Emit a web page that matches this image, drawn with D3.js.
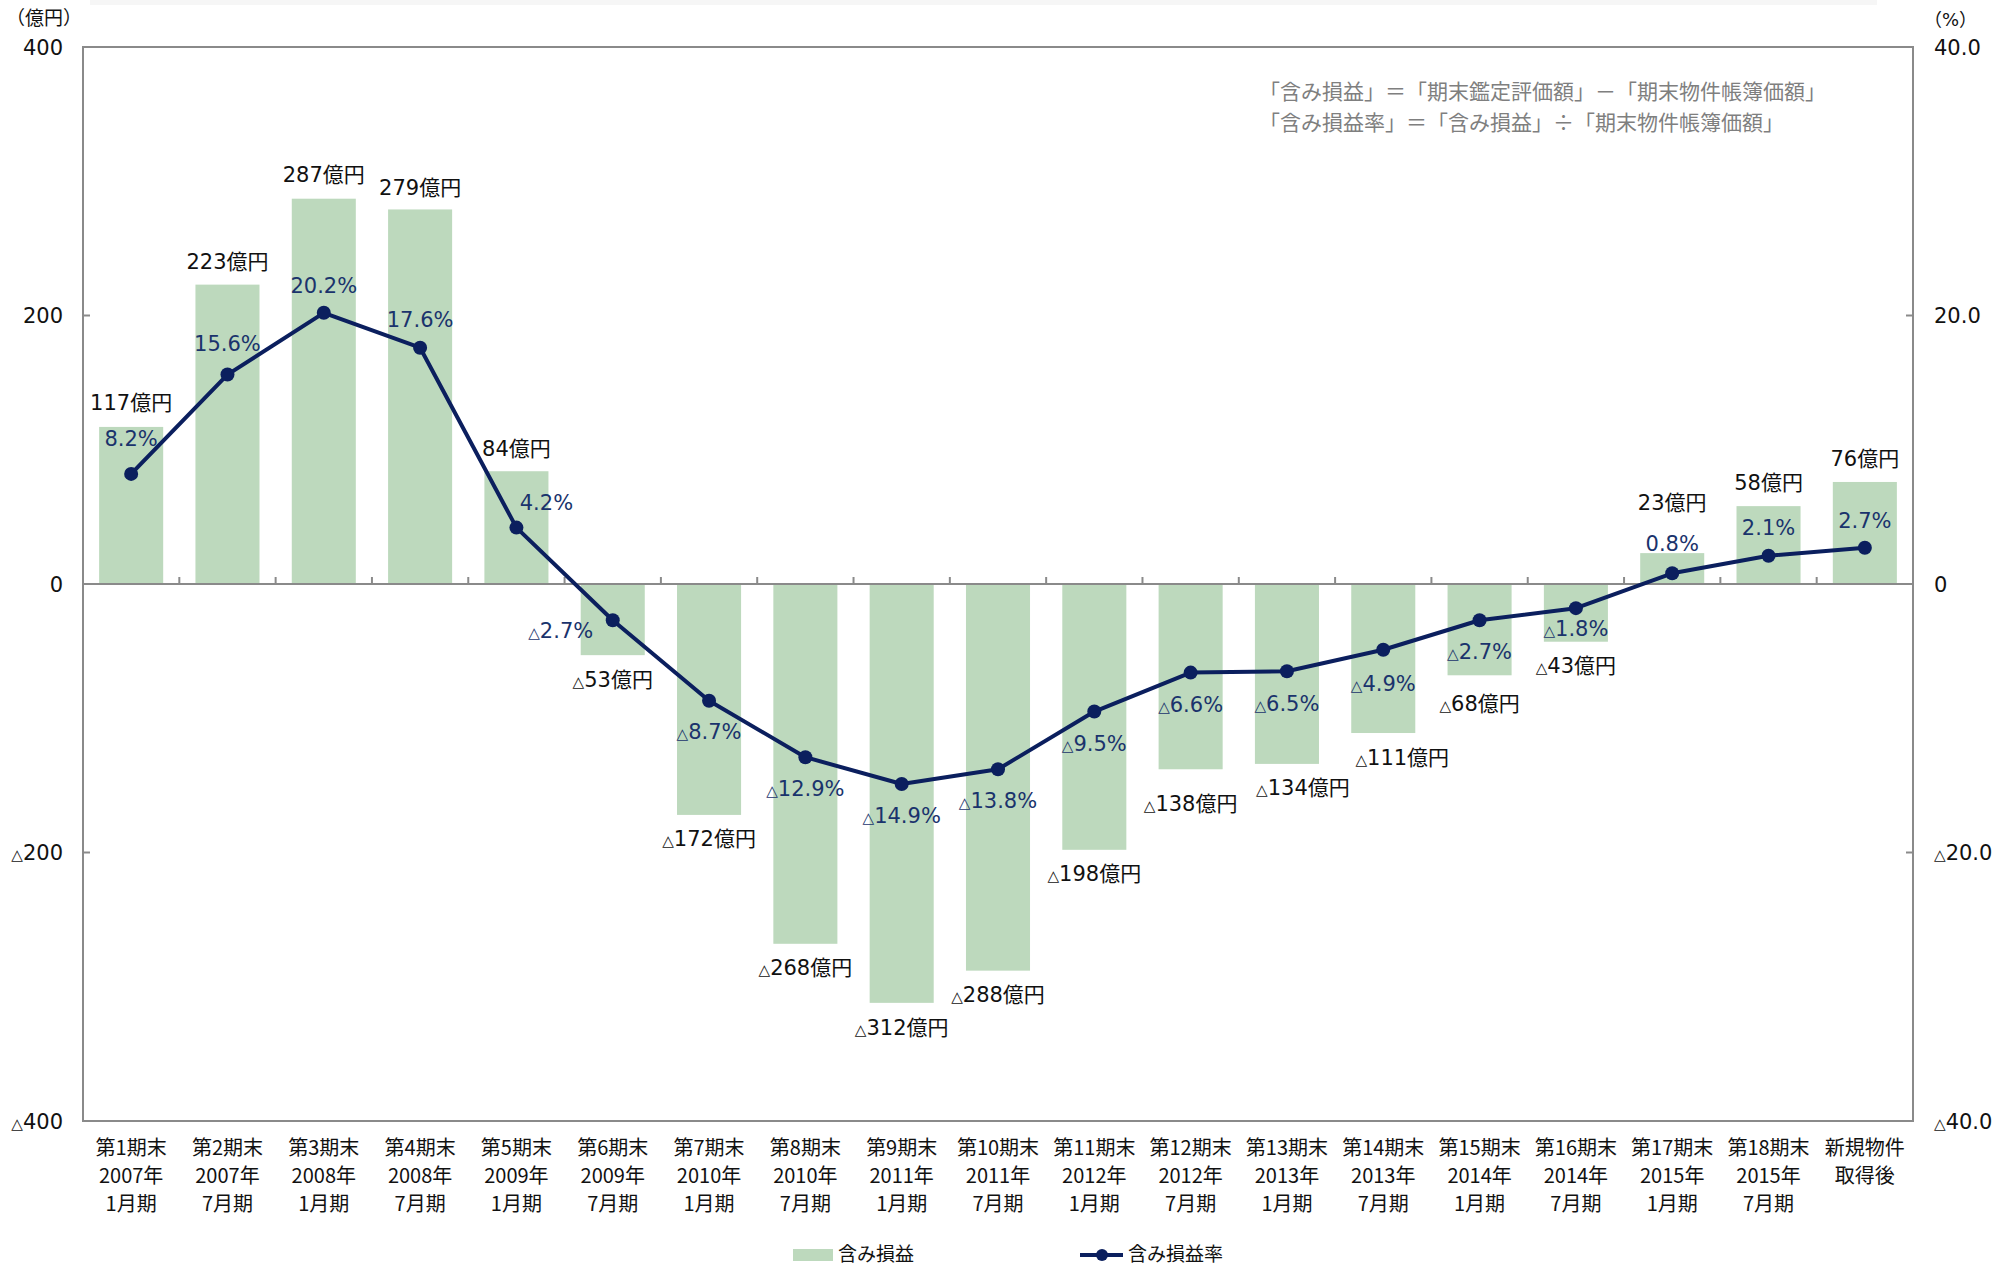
<!DOCTYPE html>
<html>
<head>
<meta charset="utf-8">
<script src="https://cdn.jsdelivr.net/npm/d3@7"></script>
<style>
  body { margin: 0; background: #fff; }
  svg { display: block; }
</style>
</head>
<body>
<div id="chart"></div>
<script>
// chart data
var periods = ['第1期末', '第2期末', '第3期末', '第4期末', '第5期末', '第6期末', '第7期末', '第8期末', '第9期末', '第10期末',
               '第11期末', '第12期末', '第13期末', '第14期末', '第15期末', '第16期末', '第17期末', '第18期末', '新規物件'];
var years = ['2007年', '2007年', '2008年', '2008年', '2009年', '2009年', '2010年', '2010年', '2011年', '2011年',
             '2012年', '2012年', '2013年', '2013年', '2014年', '2014年', '2015年', '2015年', '取得後'];
var months = ['1月期', '7月期', '1月期', '7月期', '1月期', '7月期', '1月期', '7月期', '1月期', '7月期',
              '1月期', '7月期', '1月期', '7月期', '1月期', '7月期', '1月期', '7月期', ''];
var gains = [117, 223, 287, 279, 84, -53, -172, -268, -312, -288, -198, -138, -134, -111, -68, -43, 23, 58, 76];
var rates = [8.2, 15.6, 20.2, 17.6, 4.2, -2.7, -8.7, -12.9, -14.9, -13.8, -9.5, -6.6, -6.5, -4.9, -2.7, -1.8, 0.8, 2.1, 2.7];
var leftTicks = [400, 200, 0, -200, -400];
var rightTicks = [40, 20, 0, -20, -40];
var notes = ['「含み損益」＝「期末鑑定評価額」－「期末物件帳簿価額」', '「含み損益率」＝「含み損益」÷「期末物件帳簿価額」'];

// label placement (pixels), tuned by eye
var gainLabelGap = [24, 23, 24, 22, 23, 24, 24, 24, 25, 24, 24, 34, 24, 24, 28, 24, 51, 24, 24];
var gainLabelDx = [0, 0, 0, 0, 0, 0, 0, 0, 0, 0, 0, 0, 16, 19, 0, 0, 0, 0, 0];
var rateLabelDy = [-35, -31, -27, -28, -25, 10, 31, 31, 31, 31, 32, 32, 32, 34, 31, 20, -30, -28, -27];
var rateLabelDx = [0, 0, 0, 0, 30, -52, 0, 0, 0, 0, 0, 0, 0, 0, 0, 0, 0, 0, 0];

var width = 2015;
var height = 1265;
var plotLeft = 83, plotRight = 1913, plotTop = 47, plotBottom = 1121;

var numFont = '"DejaVu Sans", "Noto Sans CJK JP", sans-serif';
var jpFont = '"Noto Sans CJK JP", sans-serif';
var axisColor = '#8a8a8a';
var barColor = '#bdd9bd';
var lineColor = '#0b1f5e';
var rateColor = '#1a336c';

var svg = d3.select('#chart')
  .append('svg')
    .attr('width', width)
    .attr('height', height);

var x = d3.scaleBand()
    .domain(d3.range(periods.length))
    .range([plotLeft, plotRight])
    .padding(0);
var yL = d3.scaleLinear().domain([-400, 400]).range([plotBottom, plotTop]);
var yR = d3.scaleLinear().domain([-40, 40]).range([plotBottom, plotTop]);
var barWidth = x.bandwidth() * 0.665;

// faint strip along the top edge
svg.append('rect')
    .attr('x', 90).attr('y', 0).attr('width', 1787).attr('height', 5)
    .attr('fill', '#f6f6f6');

// write a signed number, negative ones with a small triangle
function signedText(sel, v, digits, suffix) {
    sel.text(null);
    if(v < 0) {
        sel.append('tspan').attr('font-size', '0.72em').text('△');
        sel.append('tspan').text(Math.abs(v).toFixed(digits) + suffix);
    }
    else {
        sel.append('tspan').text(v.toFixed(digits) + suffix);
    }
}

// bars
svg.append('g')
    .selectAll('rect')
    .data(gains)
  .enter()
    .append('rect')
    .attr('x', function(d, i) { return x(i) + (x.bandwidth() - barWidth) / 2; })
    .attr('y', function(d) { return yL(Math.max(0, d)); })
    .attr('width', barWidth)
    .attr('height', function(d) { return Math.abs(yL(d) - yL(0)); })
    .attr('fill', barColor);

// frame and zero line
var frame = svg.append('g')
    .attr('stroke', axisColor)
    .attr('stroke-width', 2)
    .attr('fill', 'none');
frame.append('rect')
    .attr('x', plotLeft).attr('y', plotTop)
    .attr('width', plotRight - plotLeft).attr('height', plotBottom - plotTop);
frame.append('line')
    .attr('x1', plotLeft).attr('x2', plotRight)
    .attr('y1', yL(0)).attr('y2', yL(0));

// category ticks on zero line, pointing up
frame.selectAll('line.cat')
    .data(d3.range(1, periods.length))
  .enter()
    .append('line')
    .attr('class', 'cat')
    .attr('x1', function(d) { return x(d); })
    .attr('x2', function(d) { return x(d); })
    .attr('y1', yL(0))
    .attr('y2', yL(0) - 7);

// inner ticks on both value axes
frame.selectAll('line.lt')
    .data(leftTicks)
  .enter()
    .append('line')
    .attr('class', 'lt')
    .attr('x1', plotLeft).attr('x2', plotLeft + 7)
    .attr('y1', function(d) { return yL(d); })
    .attr('y2', function(d) { return yL(d); });
frame.selectAll('line.rt')
    .data(rightTicks)
  .enter()
    .append('line')
    .attr('class', 'rt')
    .attr('x1', plotRight).attr('x2', plotRight - 7)
    .attr('y1', function(d) { return yR(d); })
    .attr('y2', function(d) { return yR(d); });

// axis labels
svg.append('g')
    .selectAll('text')
    .data(leftTicks)
  .enter()
    .append('text')
    .attr('x', 63)
    .attr('y', function(d) { return yL(d); })
    .attr('dy', '0.36em')
    .attr('text-anchor', 'end')
    .attr('font-family', numFont)
    .attr('font-size', 21)
    .attr('fill', '#111')
    .each(function(d) { signedText(d3.select(this), d, 0, ''); });

svg.append('g')
    .selectAll('text')
    .data(rightTicks)
  .enter()
    .append('text')
    .attr('x', 1934)
    .attr('y', function(d) { return yR(d); })
    .attr('dy', '0.36em')
    .attr('font-family', numFont)
    .attr('font-size', 21)
    .attr('fill', '#111')
    .each(function(d) {
        if(d == 0) { d3.select(this).text('0'); }
        else { signedText(d3.select(this), d, 1, ''); }
    });

svg.append('text')
    .attr('x', 6).attr('y', 25)
    .attr('font-family', jpFont).attr('font-size', 19).attr('fill', '#111')
    .text('（億円）');
svg.append('text')
    .attr('x', 1924).attr('y', 26)
    .attr('font-family', numFont).attr('font-size', 18).attr('fill', '#111')
    .text('（%）');

// category labels, three lines each
var cats = svg.append('g')
    .attr('font-family', jpFont)
    .attr('font-size', 20)
    .attr('fill', '#111')
    .attr('text-anchor', 'middle');
[periods, years, months].forEach(function(rows, r) {
    cats.selectAll('text.row' + r)
        .data(rows)
      .enter()
        .append('text')
        .attr('class', 'row' + r)
        .attr('x', function(d, i) { return x(i) + x.bandwidth() / 2; })
        .attr('y', 1148 + r * 28)
        .attr('dy', '0.36em')
        .text(function(d) { return d; });
});

// rate line and markers
var line = d3.line()
    .x(function(d, i) { return x(i) + x.bandwidth() / 2; })
    .y(function(d) { return yR(d); });

svg.append('path')
    .datum(rates)
    .attr('d', line)
    .attr('fill', 'none')
    .attr('stroke', lineColor)
    .attr('stroke-width', 4)
    .attr('stroke-linejoin', 'round');

svg.append('g')
    .selectAll('circle')
    .data(rates)
  .enter()
    .append('circle')
    .attr('cx', function(d, i) { return x(i) + x.bandwidth() / 2; })
    .attr('cy', function(d) { return yR(d); })
    .attr('r', 7)
    .attr('fill', lineColor);

// gain labels
svg.append('g')
    .selectAll('text')
    .data(gains)
  .enter()
    .append('text')
    .attr('x', function(d, i) { return x(i) + x.bandwidth() / 2 + gainLabelDx[i]; })
    .attr('y', function(d, i) { return yL(d) + (d < 0 ? gainLabelGap[i] : -gainLabelGap[i]); })
    .attr('dy', '0.36em')
    .attr('text-anchor', 'middle')
    .attr('font-family', numFont)
    .attr('font-size', 21)
    .attr('fill', '#111')
    .each(function(d) { signedText(d3.select(this), d, 0, '億円'); });

// rate labels
svg.append('g')
    .selectAll('text')
    .data(rates)
  .enter()
    .append('text')
    .attr('x', function(d, i) { return x(i) + x.bandwidth() / 2 + rateLabelDx[i]; })
    .attr('y', function(d, i) { return yR(d) + rateLabelDy[i]; })
    .attr('dy', '0.36em')
    .attr('text-anchor', 'middle')
    .attr('font-family', numFont)
    .attr('font-size', 21)
    .attr('fill', rateColor)
    .each(function(d) { signedText(d3.select(this), d, 1, '%'); });

// formula note
svg.append('g')
    .selectAll('text')
    .data(notes)
  .enter()
    .append('text')
    .attr('x', 1259)
    .attr('y', function(d, i) { return 91 + i * 31; })
    .attr('dy', '0.36em')
    .attr('font-family', jpFont)
    .attr('font-size', 21)
    .attr('fill', '#7f7f7f')
    .text(function(d) { return d; });

// legend
var legend = svg.append('g')
    .attr('font-family', jpFont)
    .attr('font-size', 19)
    .attr('fill', '#111');
legend.append('rect')
    .attr('x', 793).attr('y', 1249).attr('width', 40).attr('height', 12)
    .attr('fill', barColor);
legend.append('text')
    .attr('x', 838).attr('y', 1254).attr('dy', '0.36em')
    .text('含み損益');
legend.append('line')
    .attr('x1', 1080).attr('x2', 1123).attr('y1', 1255).attr('y2', 1255)
    .attr('stroke', lineColor).attr('stroke-width', 4);
legend.append('circle')
    .attr('cx', 1102).attr('cy', 1255).attr('r', 6)
    .attr('fill', lineColor);
legend.append('text')
    .attr('x', 1128).attr('y', 1254).attr('dy', '0.36em')
    .text('含み損益率');
</script>
</body>
</html>
